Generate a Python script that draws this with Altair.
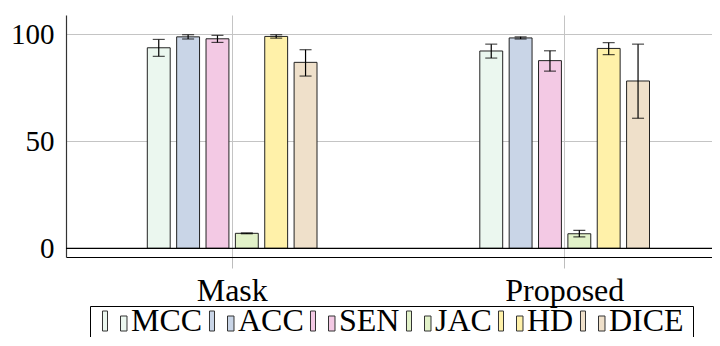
import altair as alt
import pandas as pd

groups = ["Mask", "Proposed"]
metrics = ["MCC", "ACC", "SEN", "JAC", "HD", "DICE"]
colors = ["#ebf7ef", "#c9d5e7", "#f3c9e4", "#e2f2c9", "#fff1a9", "#efe0ca"]

mask_vals = [93.6, 98.7, 97.8, 7.0, 98.9, 86.8]
mask_lo = [89.6, 97.7, 96.1, 6.8, 98.1, 80.4]
mask_hi = [97.5, 99.7, 99.4, 7.2, 99.7, 92.7]

prop_vals = [92.1, 98.2, 87.6, 6.8, 93.3, 78.1]
prop_lo = [88.8, 97.7, 82.7, 5.3, 90.4, 60.7]
prop_hi = [95.3, 98.7, 92.2, 8.4, 96.0, 95.3]

y_ticks = [0, 50, 100]

rows = []
for g, vals, los, his in [("Mask", mask_vals, mask_lo, mask_hi),
                          ("Proposed", prop_vals, prop_lo, prop_hi)]:
    for m, v, lo, hi in zip(metrics, vals, los, his):
        rows.append({"group": g, "metric": m, "value": v, "lo": lo, "hi": hi, "base": 0})
df = pd.DataFrame(rows)

FONT = "Liberation Serif"
# two bars (tall + short), bottom aligned, like a pgfplots ybar legend image
legend_path = ("M-1.316,0 L-1.316,-2.105 L-0.789,-2.105 L-0.789,0 Z "
               "M0.579,0 L0.579,-1.579 L1.263,-1.579 L1.263,0 Z")

x_enc = alt.X(
    "group:N", sort=groups, title=None,
    scale=alt.Scale(range=[0, 665], paddingInner=0, paddingOuter=0),
    axis=alt.Axis(labelAngle=0, labelFontSize=32, labelFont=FONT, labelColor="black",
                  labelPadding=7, tickSize=11, tickColor="#bdbdbd", grid=True,
                  gridColor="#c4c4c4", bandPosition=0.5, domainColor="black",
                  domainWidth=1.2),
)
xo_enc = alt.XOffset("metric:N", sort=metrics,
                     scale=alt.Scale(range=[81.3, 251.0], paddingInner=0.22, paddingOuter=0))
y_scale = alt.Scale(domain=[-4.05, 108.9], nice=False, zero=False)

base = alt.Chart(df)

bars = base.mark_bar(stroke="#222222", strokeWidth=1).encode(
    x=x_enc,
    xOffset=xo_enc,
    y=alt.Y("value:Q", scale=y_scale, title=None, stack=None,
            axis=alt.Axis(values=y_ticks, labelFontSize=29, labelFont=FONT,
                          labelColor="black", tickSize=0, labelPadding=12,
                          grid=True, gridColor="#c4c4c4", domainColor="#333333",
                          domainWidth=1.2)),
    y2="base:Q",
    color=alt.Color(
        "metric:N", sort=metrics,
        scale=alt.Scale(domain=metrics, range=colors),
        legend=alt.Legend(
            title=None, orient="none", legendX=24, legendY=291,
            direction="horizontal", symbolType=legend_path, symbolSize=361,
            symbolStrokeColor="#333333", symbolStrokeWidth=1,
            labelFont=FONT, labelFontSize=32, labelColor="black", labelOffset=0,
            labelBaseline="alphabetic",
            columnPadding=3, padding=9, strokeColor="black", gridAlign="none",
            labelLimit=300,
        ),
    ),
)

err = base.mark_rule(color="black", strokeWidth=1.2).encode(
    x=alt.X("group:N", sort=groups),
    xOffset=alt.XOffset("metric:N", sort=metrics),
    y="lo:Q", y2="hi:Q",
)
cap_hi = base.mark_tick(color="black", size=12, thickness=1.2).encode(
    x=alt.X("group:N", sort=groups),
    xOffset=alt.XOffset("metric:N", sort=metrics),
    y="hi:Q",
)
cap_lo = base.mark_tick(color="black", size=12, thickness=1.2).encode(
    x=alt.X("group:N", sort=groups),
    xOffset=alt.XOffset("metric:N", sort=metrics),
    y="lo:Q",
)

zero_line = alt.Chart(pd.DataFrame({"z": [0]})).mark_rule(color="black", strokeWidth=1.2).encode(
    y=alt.Y("z:Q")
)

chart = alt.layer(bars, zero_line, err, cap_hi, cap_lo).properties(
    width=646, height=242,
    autosize=alt.AutoSizeParams(type="none"),
    padding={"left": 58, "top": 7, "right": 0, "bottom": 80},
).configure(font=FONT).configure_view(stroke=None, strokeWidth=0)

chart.save("out.html", embed_options={"renderer": "svg", "actions": False})
